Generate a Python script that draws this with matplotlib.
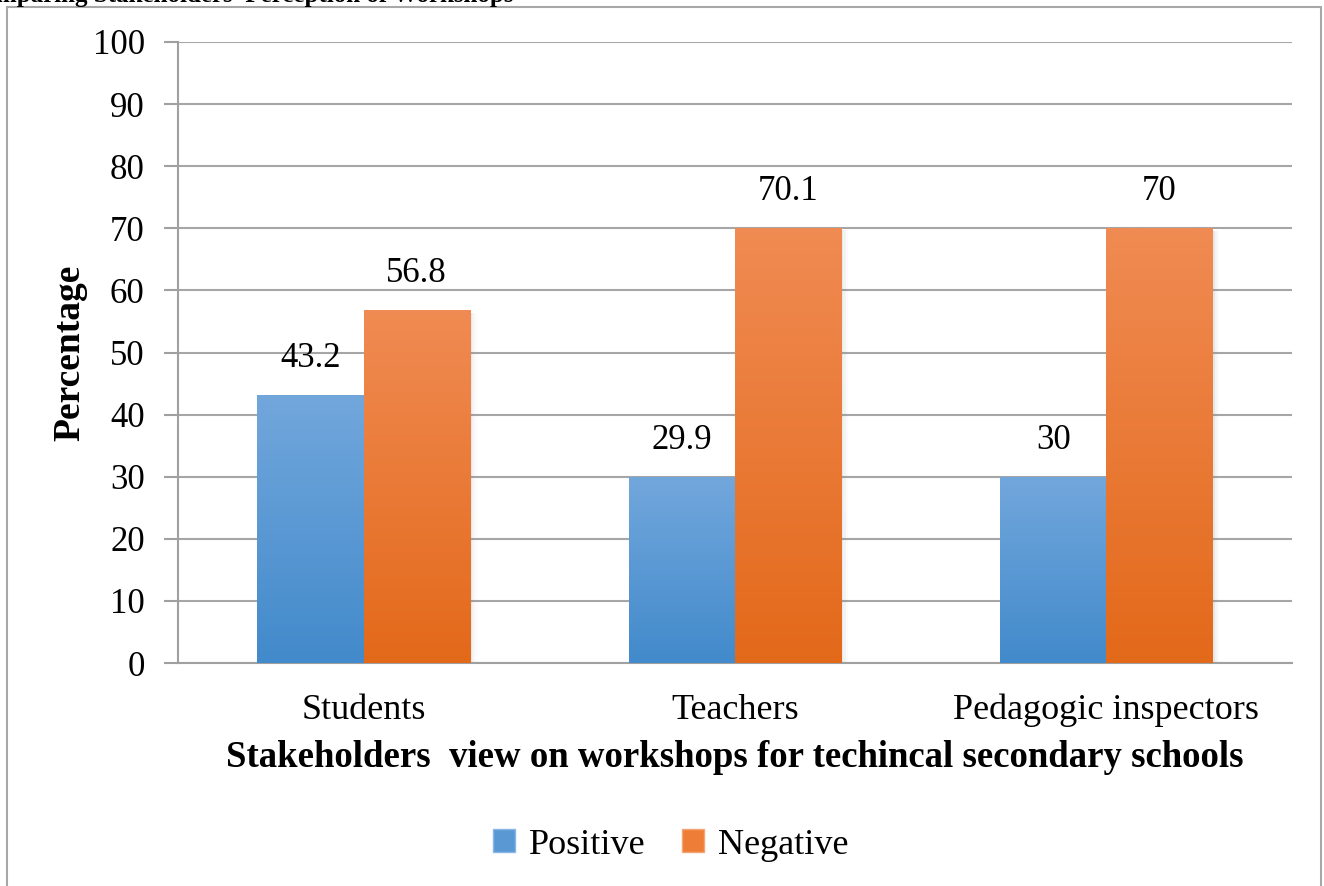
import numpy as np
import matplotlib.pyplot as plt
from matplotlib.patches import Rectangle
from matplotlib.colors import LinearSegmentedColormap

plt.rcParams['font.family'] = ['Liberation Serif', 'DejaVu Serif']

categories = ['Students', 'Teachers', 'Pedagogic inspectors']
positive = [43.2, 29.9, 30]
negative = [56.8, 70.1, 70]
pos_labels = ['43.2', '29.9', '30']
neg_labels = ['56.8', '70.1', '70']

W, H = 1324, 886
fig = plt.figure(figsize=(W / 100, H / 100), dpi=100)
ax = fig.add_axes([178 / W, 1 - 663 / H, (1292 - 178) / W, (663 - 42) / H])

blue_map = LinearSegmentedColormap.from_list('b', ['#428acb', '#72a7dc'])
orange_map = LinearSegmentedColormap.from_list('o', ['#e3691a', '#f08b53'])
grad = np.linspace(0, 1, 256).reshape(-1, 1)

width = 0.286
x = np.arange(len(categories))


def gradient_bars(xs, vals, cmap):
    bars = ax.bar(xs, vals, width, color='none', edgecolor='none', zorder=3)
    for b in bars:
        bx, by = b.get_x(), b.get_y()
        bw, bh = b.get_width(), b.get_height()
        # soft shadow on the right side
        for k, a in enumerate([0.10, 0.06, 0.03]):
            ax.add_patch(Rectangle((bx + bw, by), 0.006 * (k + 1), bh - 0.4,
                                   facecolor='#808080', alpha=a, edgecolor='none', zorder=2))
        im = ax.imshow(grad, cmap=cmap, origin='lower', aspect='auto',
                       extent=[bx, bx + bw, by, by + bh], zorder=3)
        im.set_clip_path(b)
    return bars


gradient_bars(x - width / 2, positive, blue_map)
gradient_bars(x + width / 2, negative, orange_map)

for i in range(len(categories)):
    ax.text(x[i] - width / 2, positive[i] + 3.2, pos_labels[i], ha='center', va='bottom', fontsize=25)
    ax.text(x[i] + width / 2, negative[i] + 3.2, neg_labels[i], ha='center', va='bottom', fontsize=25)

ax.set_xlim(-0.5, 2.5)
ax.set_ylim(0, 100)
ax.set_yticks(range(0, 101, 10))
ax.set_xticks(x)
ax.set_xticklabels(categories, fontsize=26)
ax.tick_params(axis='y', labelsize=25, length=10, width=1.5, color='#a0a0a0', pad=14)
ax.tick_params(axis='x', length=0, pad=22)
ax.yaxis.grid(True, color='#a6a6a6', linewidth=1.5, zorder=0)
ax.set_axisbelow(True)
for s in ['top', 'right']:
    ax.spines[s].set_visible(False)
for s in ['left', 'bottom']:
    ax.spines[s].set_color('#a0a0a0')
    ax.spines[s].set_linewidth(1.5)

ax.set_ylabel('Percentage', fontsize=27, fontweight='bold', labelpad=4)
ax.set_xlabel('Stakeholders  view on workshops for techincal secondary schools',
              fontsize=26.5, fontweight='bold', labelpad=9)

ax.legend([Rectangle((0, 0), 1, 1, facecolor='#5a98d4', edgecolor='#8ab8e6'),
           Rectangle((0, 0), 1, 1, facecolor='#ee7d37', edgecolor='#f4a677')],
          ['Positive', 'Negative'], loc='center', bbox_to_anchor=(671 / W, 1 - 845 / H),
          bbox_transform=fig.transFigure, ncol=2, frameon=False, fontsize=26,
          handlelength=0.6, handleheight=0.6, handletextpad=0.4, columnspacing=1.0)

# outer chart frame
fig.patches.append(Rectangle((7 / W, -0.05), (1321 - 7) / W, 1.05 - 7 / H, transform=fig.transFigure,
                             fill=False, edgecolor='#a8a8a8', linewidth=1.5))
fig.text(-0.003, 1 - 2 / H, 'mparing Stakeholders\u2019 Perception of Workshops',
         fontsize=18, fontweight='bold', ha='left', va='baseline')

fig.savefig('out.png', dpi=100)
